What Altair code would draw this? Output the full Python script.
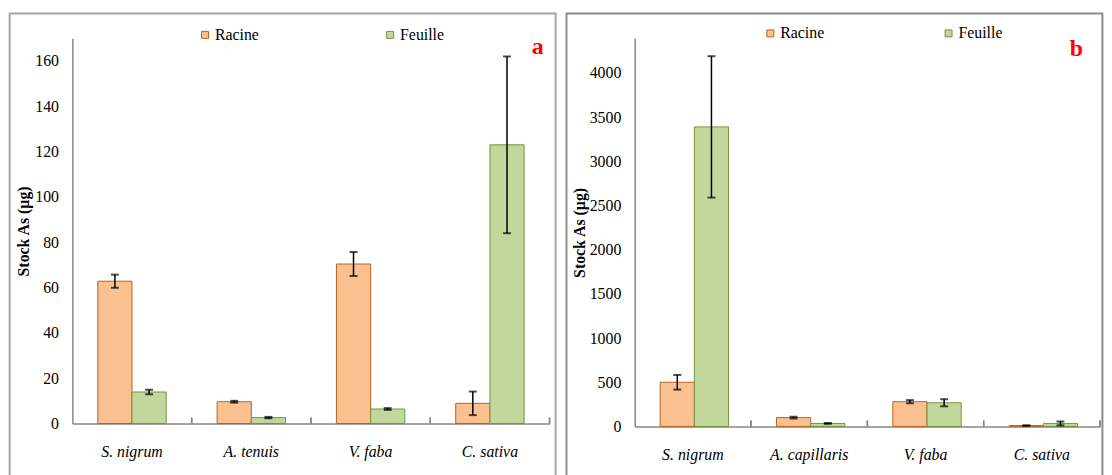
import altair as alt
import pandas as pd

# ---- data ----
series = ["Racine", "Feuille"]

cats_a = ["S. nigrum", "A. tenuis", "V. faba", "C. sativa"]
racine_a = [62.8, 9.6, 70.4, 8.9]
racine_err_a = [2.9, 0.4, 5.3, 5.2]
feuille_a = [13.9, 2.6, 6.4, 123.0]
feuille_err_a = [1.0, 0.3, 0.4, 39.0]
ticks_a = [0, 20, 40, 60, 80, 100, 120, 140, 160]

cats_b = ["S. nigrum", "A. capillaris", "V. faba", "C. sativa"]
racine_b = [500, 100, 280, 10]
racine_err_b = [83, 10, 18, 3]
feuille_b = [3390, 34, 268, 34]
feuille_err_b = [800, 5, 40, 22]
ticks_b = [0, 500, 1000, 1500, 2000, 2500, 3000, 3500, 4000]

FILLS = ["#FAC090", "#C3D69B"]
STROKES = ["#B8621E", "#77933C"]
AXIS_COLOR = "#868686"
SERIF = "Liberation Serif"


def make_df(cats, rac, rac_err, feu, feu_err):
    rows = []
    for c, v, e in zip(cats, rac, rac_err):
        rows.append({"cat": c, "series": "Racine", "value": v, "lo": v - e, "hi": v + e})
    for c, v, e in zip(cats, feu, feu_err):
        rows.append({"cat": c, "series": "Feuille", "value": v, "lo": v - e, "hi": v + e})
    return pd.DataFrame(rows)


def x_axis():
    return alt.Axis(title=None, labelAngle=0, ticks=False,
                    domainColor=AXIS_COLOR, domainWidth=1.5,
                    labelFont=SERIF, labelFontStyle="italic",
                    labelFontSize=16, labelColor="black",
                    labelPadding=20, labelBaseline="top")


def panel(cats, rac, rac_err, feu, feu_err, ymax, yticks, width, height,
          letter, letter_x, letter_y, title_x, leg_x, leg_y, col_pad,
          frame_x1, frame_x2, frame_color):
    df = make_df(cats, rac, rac_err, feu, feu_err)

    x_enc = alt.X("cat:N", sort=cats,
                  scale=alt.Scale(paddingInner=0, paddingOuter=0),
                  axis=x_axis())
    xoff = alt.XOffset("series:N", sort=series,
                       scale=alt.Scale(domain=series, paddingOuter=0.745, paddingInner=0))
    y_scale = alt.Scale(domain=[0, ymax], nice=False, zero=True)
    y_axis = alt.Axis(values=yticks, format="d", grid=False, ticks=False,
                      domainColor=AXIS_COLOR, domainWidth=1.5,
                      labelFont=SERIF, labelFontSize=16, labelColor="black",
                      labelPadding=14,
                      title="Stock As (µg)", titleFont=SERIF, titleFontSize=16,
                      titleFontWeight="bold", titleColor="black",
                      titleAngle=270, titleX=title_x, titleY=height / 2,
                      titleAlign="center", titleBaseline="middle")

    legend = alt.Legend(orient="none", legendX=leg_x, legendY=leg_y,
                        direction="horizontal", title=None,
                        symbolType="square", symbolSize=50,
                        symbolStrokeWidth=1, labelFont=SERIF,
                        labelFontSize=16, labelColor="black", labelOffset=2,
                        columnPadding=col_pad, padding=0)

    base = alt.Chart(df)

    frame = alt.Chart(pd.DataFrame({"f": [0]})).mark_rect(
        fill="white", fillOpacity=0, stroke=frame_color, strokeWidth=2
    ).encode(x=alt.value(frame_x1), x2=alt.value(frame_x2),
             y=alt.value(-25), y2=alt.value(500))

    bars = base.mark_bar(strokeWidth=1).encode(
        x=x_enc, xOffset=xoff,
        y=alt.Y("value:Q", scale=y_scale, axis=y_axis),
        color=alt.Color("series:N", sort=series,
                        scale=alt.Scale(domain=series, range=FILLS), legend=legend),
        stroke=alt.Stroke("series:N", sort=series,
                          scale=alt.Scale(domain=series, range=STROKES), legend=legend),
    )

    err = base.mark_rule(color="black", strokeWidth=1.5).encode(
        x=x_enc, xOffset=xoff,
        y=alt.Y("lo:Q", scale=y_scale, axis=y_axis), y2="hi:Q")
    cap_lo = base.mark_tick(color="black", size=8, thickness=2).encode(
        x=x_enc, xOffset=xoff, y=alt.Y("lo:Q", scale=y_scale, axis=y_axis))
    cap_hi = base.mark_tick(color="black", size=8, thickness=2).encode(
        x=x_enc, xOffset=xoff, y=alt.Y("hi:Q", scale=y_scale, axis=y_axis))

    sep_ticks = base.mark_rule(color=AXIS_COLOR, strokeWidth=1.5).encode(
        x=alt.X("cat:N", sort=cats, bandPosition=1,
                scale=alt.Scale(paddingInner=0, paddingOuter=0),
                axis=x_axis()),
        y=alt.value(height - 6), y2=alt.value(height))

    tag = alt.Chart(pd.DataFrame({"t": [letter]})).mark_text(
        font=SERIF, fontSize=24, fontWeight="bold", color="#FF0000",
        align="center", baseline="alphabetic"
    ).encode(text="t:N", x=alt.value(letter_x), y=alt.value(letter_y))

    return alt.layer(frame, bars, sep_ticks, err, cap_lo, cap_hi, tag).properties(
        width=width, height=height)


pa = panel(cats_a, racine_a, racine_err_a, feuille_a, feuille_err_a,
           170, ticks_a, 482, 389, "a", 470, 16, -49, 126, -11.5, 124,
           -63.3, 488.1, "#A6A6A6")
pb = panel(cats_b, racine_b, racine_err_b, feuille_b, feuille_err_b,
           4392, ticks_b, 470, 392, "b", 446, 18, -56, 129, -13, 117,
           -68.9, 472.4, "#8C8C8C")

chart = alt.hconcat(pa, pb, spacing=8).resolve_scale(
    color="independent", stroke="independent"
).resolve_legend(
    color="independent", stroke="independent"
).properties(
    padding={"left": 0, "top": 2, "right": 0, "bottom": 0},
    background="white",
).configure_view(stroke=None)

chart.save("out.html", embed_options={"renderer": "svg", "actions": False})
